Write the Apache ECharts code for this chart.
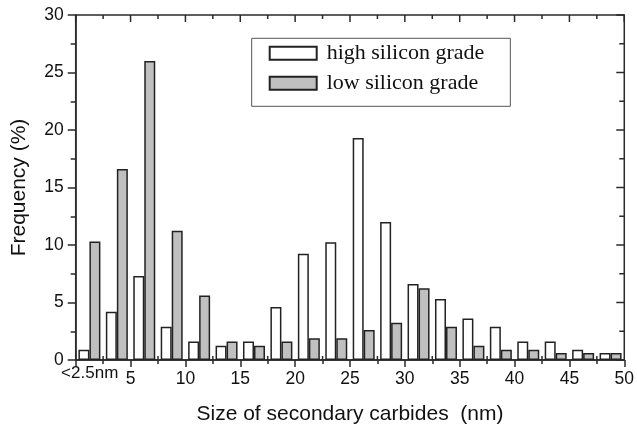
<!DOCTYPE html>
<html>
<head>
<meta charset="utf-8">
<script src="https://cdn.jsdelivr.net/npm/echarts@6/dist/echarts.min.js"></script>
<style>html,body{margin:0;padding:0;background:#fff;}#c{width:637px;height:430px;}</style>
</head>
<body>
<div id="c"></div>
<script>
// bin centres (nm); first bin is "<2.5nm"
const binCenters = [1.25, 3.75, 6.25, 8.75, 11.25, 13.75, 16.25, 18.75, 21.25, 23.75,
                    26.25, 28.75, 31.25, 33.75, 36.25, 38.75, 41.25, 43.75, 46.25, 48.75];
const highSilicon = [0.9, 4.2, 7.3, 2.9, 1.6, 1.25, 1.6, 4.6, 9.25, 10.25,
                     19.3, 12.0, 6.6, 5.3, 3.6, 2.9, 1.6, 1.6, 0.9, 0.6];
const lowSilicon  = [10.3, 16.6, 26.0, 11.25, 5.6, 1.6, 1.25, 1.6, 1.9, 1.9,
                     2.6, 3.25, 6.25, 2.9, 1.25, 0.9, 0.9, 0.6, 0.6, 0.6];
const seriesNames = ['high silicon grade', 'low silicon grade'];
const xTitle = 'Size of secondary carbides  (nm)';
const yTitle = 'Frequency (%)';
const firstBinLabel = '<2.5nm';
// tick values for the mirrored frame (top / right) and the inner half of bottom minor ticks
const xMajorTicks = [0, 5, 10, 15, 20, 25, 30, 35, 40, 45, 50];
const xMinorTicks = [2.5, 7.5, 12.5, 17.5, 22.5, 27.5, 32.5, 37.5, 42.5, 47.5];
const yMajorTicks = [0, 5, 10, 15, 20, 25, 30];
const yMinorTicks = [2.5, 7.5, 12.5, 17.5, 22.5, 27.5];

const chart = echarts.init(document.getElementById('c'));
const axisCol = '#2a2a2a';
const sans = 'Liberation Sans, Arial, sans-serif';
const pair = (xs, ys) => xs.map((x, i) => [x, ys[i]]);
const X_MAX = 50, Y_MAX = 30;

// frame tick list: [value, kind, length]; kind 0 = top, 1 = bottom (inner half), 2 = right
const frameTicks = [];
xMajorTicks.forEach(v => frameTicks.push([v, 0, 7]));
xMinorTicks.forEach(v => frameTicks.push([v, 0, 4]));
xMinorTicks.forEach(v => frameTicks.push([v, 1, 4]));
yMajorTicks.forEach(v => frameTicks.push([v, 2, 8]));
yMinorTicks.forEach(v => frameTicks.push([v, 2, 5]));

function renderFrameTick(params, api) {
  const v = api.value(0), kind = api.value(1), len = api.value(2);
  let p, shape;
  if (kind === 0) {
    p = api.coord([v, Y_MAX]);
    shape = {x1: p[0], y1: p[1], x2: p[0], y2: p[1] + len};
  } else if (kind === 1) {
    p = api.coord([v, 0]);
    shape = {x1: p[0], y1: p[1], x2: p[0], y2: p[1] - len};
  } else {
    p = api.coord([X_MAX, v]);
    shape = {x1: p[0] - len, y1: p[1], x2: p[0], y2: p[1]};
  }
  return {type: 'line', shape: shape, style: {stroke: axisCol, lineWidth: 1.5}};
}

chart.setOption({
  animation: false,
  backgroundColor: '#fff',
  grid: {left: 75.7, right: 8.7, top: 15, bottom: 70, show: true,
         borderColor: axisCol, borderWidth: 1.5, backgroundColor: 'transparent'},
  legend: {
    data: seriesNames,
    orient: 'vertical',
    left: 251.7, top: 38.3,
    itemWidth: 47, itemHeight: 13, itemGap: 8,
    borderColor: '#555', borderWidth: 1,
    padding: [4, 26, 12, 17],
    icon: 'rect',
    textStyle: {fontFamily: 'Liberation Serif, Times New Roman, serif', fontSize: 22, color: '#111', padding: [0, 0, 0, 5]}
  },
  xAxis: {
    type: 'value', min: 0, max: X_MAX, interval: 5,
    name: xTitle, nameLocation: 'middle', nameGap: 44,
    nameTextStyle: {fontFamily: sans, fontSize: 21, color: '#111'},
    axisLine: {show: true, onZero: false, lineStyle: {color: axisCol, width: 1.5}},
    axisTick: {show: true, length: 7, lineStyle: {color: axisCol, width: 1.5}},
    minorTick: {show: true, splitNumber: 2, length: 4, lineStyle: {color: axisCol, width: 1.5}},
    splitLine: {show: false},
    axisLabel: {
      margin: 10, fontFamily: sans, fontSize: 17.5, color: '#111',
      formatter: v => v === 0 ? '{s|' + firstBinLabel + '}' : String(v),
      rich: {s: {fontFamily: sans, fontSize: 17, color: '#111', lineHeight: 7, padding: [0, 0, 0, 28]}}
    }
  },
  yAxis: {
    type: 'value', min: 0, max: Y_MAX, interval: 5,
    name: yTitle, nameLocation: 'middle', nameGap: 46,
    nameTextStyle: {fontFamily: sans, fontSize: 21, color: '#111'},
    axisLine: {show: true, onZero: false, lineStyle: {color: axisCol, width: 1.5}},
    axisTick: {show: true, length: 8, lineStyle: {color: axisCol, width: 1.5}},
    minorTick: {show: true, splitNumber: 2, length: 5, lineStyle: {color: axisCol, width: 1.5}},
    axisLabel: {margin: 12, fontFamily: sans, fontSize: 17.5, color: '#111'},
    splitLine: {show: false}
  },
  series: [{
    name: seriesNames[0], type: 'bar',
    barWidth: 11, barGap: '0%',
    itemStyle: {color: '#ffffff', borderColor: '#222', borderWidth: 1.5},
    data: pair(binCenters, highSilicon)
  }, {
    name: seriesNames[1], type: 'bar',
    barWidth: 11, barGap: '0%',
    itemStyle: {color: '#c0c0c0', borderColor: '#222', borderWidth: 1.5},
    data: pair(binCenters, lowSilicon)
  }, {
    type: 'custom', silent: true, clip: false, z: 5,
    encode: {x: 0, y: -1},
    renderItem: renderFrameTick,
    data: frameTicks
  }]
});
</script>
</body>
</html>
